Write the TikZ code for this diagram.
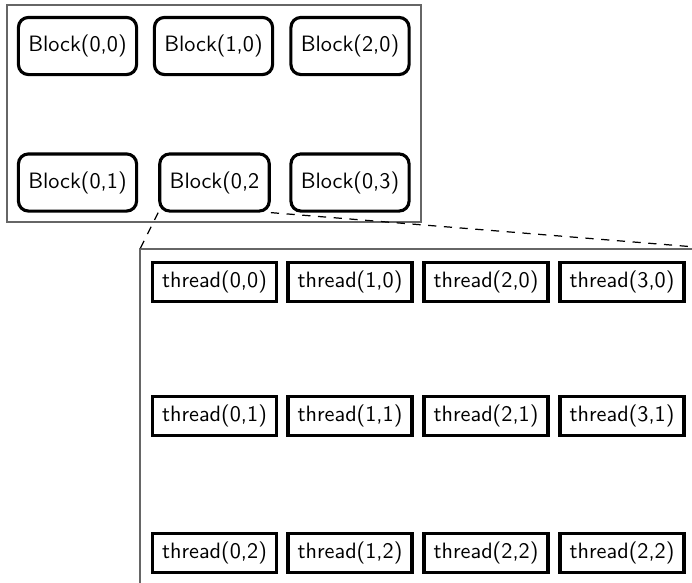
\documentclass[tikz,border=0pt]{standalone}
\begin{document}
\begin{tikzpicture}[x=0.45pt,y=-0.45pt,
  font=\sffamily,
  blockbox/.style={draw, line width=1.4pt, rounded corners=4.5pt,
    minimum height=25.7pt, inner xsep=4.47pt, inner ysep=0pt},
  threadbox/.style={draw, line width=1.6pt, minimum width=55.8pt,
    minimum height=17.5pt, inner sep=0pt},
  frame/.style={draw=black!60, line width=0.6pt},
  link/.style={dash pattern=on 3.7pt off 3.4pt, line width=0.55pt}]
\clip (0,0) rectangle (692,582);
\fill[white] (0,0) rectangle (692,582);

% grid of blocks
\draw[frame] (7,5) rectangle (421,222);
\node[blockbox] (b00) at (77.5,46)    {Block(0,0)};
\node[blockbox] (b10) at (213.5,46)   {Block(1,0)};
\node[blockbox] (b20) at (350,46)     {Block(2,0)};
\node[blockbox] (b01) at (77.5,182.5) {Block(0,1)};
\node[blockbox] (b02) at (214.5,182.5){Block(0,2};
\node[blockbox] (b03) at (350,182.5)  {Block(0,3)};

% enlarged view of one block
\coordinate (zNW) at (140,249);
\coordinate (zNE) at (720,249);
\coordinate (zSW) at (140,600);
\draw[frame] (zNE) -- (zNW) -- (zSW);
\draw[link] (b02.south west) -- (zNW);
\draw[link] (b02.south east) -- (zNE);

% threads inside the block
\node[threadbox] (t00) at (214.5,282) {thread(0,0)};
\node[threadbox] (t10) at (350,282)   {thread(1,0)};
\node[threadbox] (t20) at (486,282)   {thread(2,0)};
\node[threadbox] (t30) at (622,282)   {thread(3,0)};
\node[threadbox] (t01) at (214.5,416) {thread(0,1)};
\node[threadbox] (t11) at (350,416)   {thread(1,1)};
\node[threadbox] (t21) at (486,416)   {thread(2,1)};
\node[threadbox] (t31) at (622,416)   {thread(3,1)};
\node[threadbox] (t02) at (214.5,553) {thread(0,2)};
\node[threadbox] (t12) at (350,553)   {thread(1,2)};
\node[threadbox] (t22) at (486,553)   {thread(2,2)};
\node[threadbox] (t32) at (622,553)   {thread(2,2)};
\end{tikzpicture}
\end{document}
